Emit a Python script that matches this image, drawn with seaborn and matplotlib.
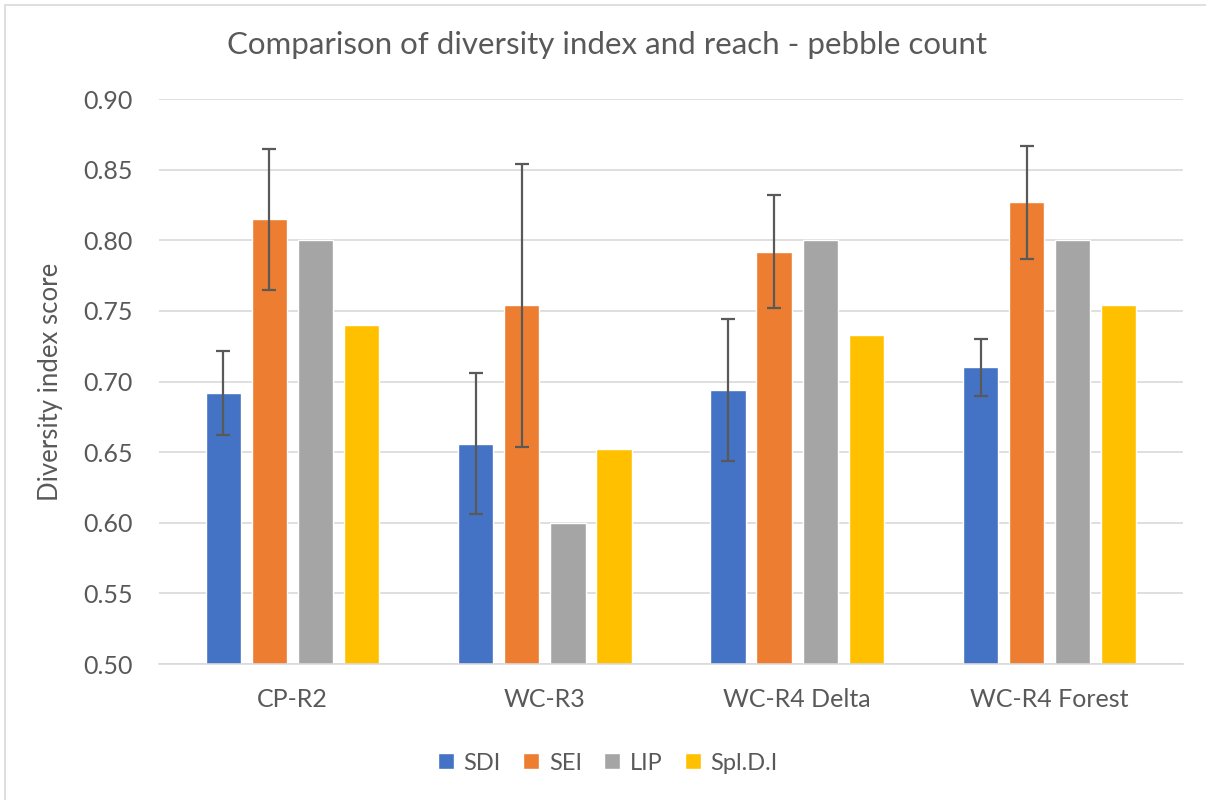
import matplotlib
matplotlib.use("Agg")
import matplotlib.pyplot as plt
import seaborn as sns
import pandas as pd

reaches = ["CP-R2", "WC-R3", "WC-R4 Delta", "WC-R4 Forest"]
indices = ["SDI", "SEI", "LIP", "Spl.D.I"]

sdi = [0.692, 0.656, 0.694, 0.710]
sei = [0.815, 0.754, 0.792, 0.827]
lip = [0.800, 0.600, 0.800, 0.800]
spl = [0.740, 0.652, 0.733, 0.754]

sdi_err = [0.030, 0.050, 0.050, 0.020]
sei_err = [0.050, 0.100, 0.040, 0.040]

colors = ["#4472C4", "#ED7D31", "#A5A5A5", "#FFC000"]

# long form table for seaborn
rows = []
for name, vals in zip(indices, [sdi, sei, lip, spl]):
    for r, v in zip(reaches, vals):
        rows.append({"Reach": r, "Index": name, "Score": v})
df = pd.DataFrame(rows)

sns.set_theme(style="white")
plt.rcParams["font.family"] = ["Lato", "DejaVu Sans"]

fig = plt.figure(figsize=(12.06, 8), dpi=100)
ax = fig.add_axes([159 / 1206, 0.17, 1024 / 1206, 0.706])

sns.barplot(data=df, x="Reach", y="Score", hue="Index", hue_order=indices,
            order=reaches, palette=colors, width=0.73, gap=0.23,
            errorbar=None, saturation=1, ax=ax)

# error bars only on SDI and SEI
for cont, errs in zip(ax.containers[:2], [sdi_err, sei_err]):
    xs = [b.get_x() + b.get_width() / 2 for b in cont]
    ys = [b.get_height() for b in cont]
    ax.errorbar(xs, ys, yerr=errs, fmt="none", ecolor="#595959",
                elinewidth=1.6, capsize=5, capthick=1.6, zorder=5)

ax.set_ylim(0.5, 0.9)
ax.set_yticks([0.5 + 0.05 * i for i in range(9)])
ax.yaxis.set_major_formatter(matplotlib.ticker.FormatStrFormatter("%.2f"))
ax.grid(axis="y", color="#D9D9D9", linewidth=1.2)
ax.set_axisbelow(True)
for s in ["top", "right", "left"]:
    ax.spines[s].set_visible(False)
ax.spines["bottom"].set_color("#D9D9D9")
ax.spines["bottom"].set_linewidth(1.2)
ax.tick_params(axis="both", length=0, labelsize=18, labelcolor="#595959")
ax.tick_params(axis="x", pad=17)
ax.tick_params(axis="y", pad=19)

ax.set_xlabel("")
ax.set_ylabel("Diversity index score", fontsize=18.5, color="#595959")
ax.yaxis.set_label_coords(-0.094, 0.5)
fig.text(0.503, 0.944, "Comparison of diversity index and reach - pebble count",
         fontsize=22.5, color="#595959", ha="center", va="center")

ax.legend(loc="center", bbox_to_anchor=(0.504, 1 - 763 / 800),
          bbox_transform=fig.transFigure, ncol=4,
          frameon=False, fontsize=17, handlelength=0.68, handleheight=0.68,
          handletextpad=0.4, columnspacing=0.95, labelcolor="#595959")

# thin chart border like the office chart area
fig.patches.append(plt.Rectangle((5 / 1206, -0.1), 1.2, 1.1 - 5 / 800,
                                 transform=fig.transFigure, fill=False,
                                 edgecolor="#D9D9D9", linewidth=1.2))

fig.savefig("out.png", dpi=100)
